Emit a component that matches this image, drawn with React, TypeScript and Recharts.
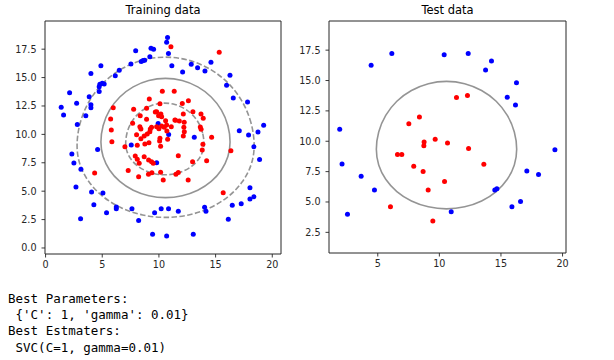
import React from 'react';
import { ComposedChart, XAxis, YAxis, Scatter, Line, ReferenceArea } from 'recharts';

type P = [number, number];

const trainBlue: P[] = [
  [10.76,18.52],[10.68,18.12],[10.84,17.12],[9.3,17.58],[9.53,17.5],[7.95,17.37],[9.2,16.84],[8.74,16.53],[8.6,16.5],[8.44,16.42],
  [7.53,16.2],[4.88,16.04],[4.0,15.35],[6.5,15.64],[6.15,15.17],[4.79,14.41],[5.0,14.5],[5.17,14.44],[4.73,14.2],[4.73,13.78],
  [2.12,13.67],[3.85,13.31],[4.0,12.6],[4.0,12.35],[2.74,12.73],[1.38,12.38],[1.59,11.7],[3.55,11.65],[2.8,10.88],[11.14,16.03],
  [12.09,15.5],[12.85,16.17],[13.41,15.87],[14.06,15.58],[14.59,16.34],[16.27,15.2],[15.97,14.32],[16.56,13.2],[17.82,12.85],[17.09,10.33],
  [17.91,9.95],[18.74,10.21],[19.24,10.8],[18.38,8.92],[18.88,7.78],[18.03,5.31],[18.03,4.31],[18.38,4.52],[17.26,3.9],[16.47,3.76],
  [16.12,2.52],[14.03,3.58],[14.15,3.23],[13.03,1.2],[11.71,3.23],[10.85,3.46],[10.2,3.46],[9.62,3.11],[8.21,2.41],[7.62,3.46],
  [9.44,1.2],[10.68,1.06],[6.24,3.61],[6.24,3.46],[5.38,3.11],[4.26,3.81],[5.06,4.84],[4.06,4.93],[3.09,2.58],[2.68,5.37],
  [3.12,6.92],[2.5,7.48],[2.32,8.27],[4.59,8.66],[7.56,9.07],[9.93,10.95],[10.86,10.0],[13.12,9.74],[9.8,7.51],
];

const trainRed: P[] = [
  [11.06,17.72],[15.32,17.22],[10.3,13.79],[11.35,13.79],[9.15,13.12],[7.77,12.21],[8.91,12.3],[10.09,12.7],[12.06,12.72],[12.6,12.95],
  [5.97,12.35],[5.74,11.36],[5.8,10.39],[5.85,9.36],[13.0,12.0],[13.71,11.8],[13.91,11.42],[13.65,10.65],[13.72,10.45],[12.15,11.8],
  [11.41,11.27],[11.8,11.18],[12.24,10.24],[12.15,9.86],[14.65,9.74],[13.88,9.12],[13.82,8.62],[11.71,8.12],[12.97,7.58],[14.21,7.67],
  [16.35,8.55],[15.67,4.87],[12.58,5.99],[11.71,6.65],[11.5,6.5],[10.38,5.99],[10.15,6.66],[9.38,6.62],[9.08,6.5],[9.35,7.58],
  [9.5,7.45],[8.7,8.04],[9.09,7.75],[7.91,8.1],[8.09,7.81],[8.26,7.46],[7.29,6.81],[8.21,6.28],[4.33,6.6],[7.0,8.92],
  [8.09,9.04],[8.76,9.15],[9.12,9.27],[10.15,8.95],[10.06,9.42],[10.09,9.66],[10.77,9.57],[8.03,9.97],[8.7,9.86],[8.97,10.04],
  [9.2,10.24],[9.35,10.62],[8.32,10.68],[7.68,10.98],[8.35,11.65],[8.91,11.33],[9.68,11.97],[9.97,11.65],[10.17,11.8],[9.8,12.0],
  [10.24,11.56],[9.8,10.68],[10.24,10.74],[10.47,10.62],[10.68,10.83],[11.09,10.68],[10.59,11.21],[11.47,11.24],[10.7,10.3],[12.2,10.62],
  [12.23,11.06],[8.41,10.48],[8.41,9.62],[9.24,10.48],[10.0,10.5],
];

const testBlue: P[] = [
  [6.14,17.23],[4.46,16.25],[10.39,17.12],[12.34,17.23],[14.23,16.6],[13.75,15.87],[16.26,14.81],[15.51,13.63],[16.18,12.98],[1.91,10.99],
  [2.1,8.13],[3.65,7.12],[4.73,5.98],[2.54,3.99],[10.96,4.2],[14.5,5.98],[14.67,6.08],[15.89,4.61],[16.59,5.05],[17.1,7.56],
  [18.05,7.26],[19.38,9.3],
];

const testRed: P[] = [
  [11.39,13.61],[12.28,13.77],[8.38,12.0],[7.52,11.45],[9.66,10.17],[8.76,9.93],[8.74,9.63],[10.66,9.85],[12.37,9.41],[6.6,8.91],
  [6.95,8.91],[7.92,7.94],[8.68,7.5],[13.61,8.1],[10.42,6.68],[9.09,5.98],[6.03,4.61],[9.47,3.44],
];

// decision boundary (solid) and margins (dashed)
const boundary: P[] = [
  [16.34,9.30],[16.15,10.78],[15.57,12.16],[14.66,13.34],[13.46,14.23],[12.07,14.80],[10.58,14.99],[9.09,14.80],
  [7.70,14.23],[6.50,13.34],[5.59,12.16],[5.01,10.78],[4.82,9.30],[5.01,8.03],[5.59,6.84],[6.50,5.82],
  [7.70,5.03],[9.09,4.55],[10.58,4.38],[12.07,4.55],[13.46,5.03],[14.66,5.82],[15.57,6.84],[16.15,8.03],
];
const marginOuter: P[] = [
  [18.49,8.95],[18.22,11.00],[17.43,12.92],[16.18,14.56],[14.55,15.82],[12.65,16.61],[10.59,16.89],[8.53,16.61],
  [6.63,15.82],[5.00,14.56],[3.75,12.92],[2.96,11.00],[2.69,8.95],[2.96,7.31],[3.75,5.79],[5.00,4.48],
  [6.63,3.48],[8.53,2.84],[10.59,2.62],[12.65,2.84],[14.55,3.48],[16.18,4.48],[17.43,5.79],[18.22,7.31],
];
const marginInner: P[] = [
  [14.01,9.20],[13.89,10.13],[13.55,11.00],[12.99,11.74],[12.27,12.31],[11.42,12.67],[10.52,12.79],[9.62,12.67],
  [8.77,12.31],[8.05,11.74],[7.49,11.00],[7.15,10.13],[7.03,9.20],[7.15,8.48],[7.49,7.81],[8.05,7.23],
  [8.77,6.79],[9.62,6.50],[10.52,6.41],[11.42,6.50],[12.27,6.79],[12.99,7.23],[13.55,7.81],[13.89,8.48],
];

const trainXDomain: [number, number] = [-0.05, 20.77];
const trainYDomain: [number, number] = [-0.53, 19.98];
const testXDomain: [number, number] = [1.04, 20.28];
const testYDomain: [number, number] = [0.8, 19.9];
const trainXTicks = [0, 5, 10, 15, 20];
const trainYTicks = [0, 2.5, 5, 7.5, 10, 12.5, 15, 17.5];
const testXTicks = [5, 10, 15, 20];
const testYTicks = [2.5, 5, 7.5, 10, 12.5, 15, 17.5];

const textLines = [
  'Best Parameters:',
  " {'C': 1, 'gamma': 0.01}",
  'Best Estmaters:',
  ' SVC(C=1, gamma=0.01)',
];

const toObj = (a: P[]) => a.map(([x, y]) => ({ x, y }));

const dot = (color: string) => (props: any) => (
  <circle cx={props.cx} cy={props.cy} r={2.5} fill={color} />
);

const tickStyle = { fontSize: 9.6, fill: '#262626', fontFamily: 'DejaVu Sans' };

const contourStroke = { stroke: '#000', strokeOpacity: 0.42, strokeWidth: 1.6 };

function Panel(props: {
  left: number; yAxisWidth: number; marginLeft: number; marginRight: number; marginBottom: number;
  xDomain: [number, number]; yDomain: [number, number]; xTicks: number[]; yTicks: number[];
  blue: P[]; red: P[]; dashed: boolean;
}) {
  const { xDomain, yDomain } = props;
  return (
    <div style={{ position: 'absolute', left: props.left, top: 0 }}>
      <ComposedChart
        width={300}
        height={275}
        margin={{ top: 21, right: props.marginRight, bottom: props.marginBottom, left: props.marginLeft }}
      >
        <XAxis
          type="number"
          dataKey="x"
          domain={xDomain}
          ticks={props.xTicks}
          allowDataOverflow
          axisLine={false}
          tickSize={3.5}
          tickMargin={4}
          tickLine={{ stroke: '#262626', strokeWidth: 0.9 }}
          tick={tickStyle}
          height={20}
          interval={0}
        />
        <YAxis
          type="number"
          dataKey="y"
          domain={yDomain}
          ticks={props.yTicks}
          allowDataOverflow
          axisLine={false}
          tickSize={3.5}
          tickMargin={5}
          tickLine={{ stroke: '#262626', strokeWidth: 0.9 }}
          tick={tickStyle}
          width={props.yAxisWidth}
          interval={0}
          tickFormatter={(v: number) => v.toFixed(1)}
        />
        {props.dashed && (
          <Line
            data={toObj(marginOuter)}
            dataKey="y"
            type="basisClosed"
            {...contourStroke}
            strokeDasharray="5.5 2.4"
            dot={false}
            activeDot={false}
            isAnimationActive={false}
            legendType="none"
          />
        )}
        {props.dashed && (
          <Line
            data={toObj(marginInner)}
            dataKey="y"
            type="basisClosed"
            {...contourStroke}
            strokeDasharray="5.5 2.4"
            dot={false}
            activeDot={false}
            isAnimationActive={false}
            legendType="none"
          />
        )}
        <Line
          data={toObj(boundary)}
          dataKey="y"
          type="basisClosed"
          {...contourStroke}
          dot={false}
          activeDot={false}
          isAnimationActive={false}
          legendType="none"
        />
        <Scatter data={toObj(props.blue)} fill="#0000ff" shape={dot('#0000ff')} isAnimationActive={false} />
        <Scatter data={toObj(props.red)} fill="#ff0000" shape={dot('#ff0000')} isAnimationActive={false} />
        <ReferenceArea
          x1={xDomain[0]}
          x2={xDomain[1]}
          y1={yDomain[0]}
          y2={yDomain[1]}
          fill="none"
          fillOpacity={0}
          stroke="#262626"
          strokeWidth={1}
          ifOverflow="visible"
        />
      </ComposedChart>
    </div>
  );
}

const titleStyle: React.CSSProperties = {
  position: 'absolute',
  top: 5.3,
  width: 200,
  textAlign: 'center',
  fontFamily: 'DejaVu Sans',
  fontSize: 11.5,
  lineHeight: '11.5px',
  color: '#000',
  whiteSpace: 'nowrap',
};

export default function App() {
  return (
    <div style={{ position: 'absolute', left: 0, top: 0, width: 614, height: 360, background: '#fff', overflow: 'hidden' }}>
      <Panel
        left={0}
        yAxisWidth={40}
        marginLeft={5}
        marginRight={19}
        marginBottom={1}
        xDomain={trainXDomain}
        yDomain={trainYDomain}
        xTicks={trainXTicks}
        yTicks={trainYTicks}
        blue={trainBlue}
        red={trainRed}
        dashed={true}
      />
      <Panel
        left={290}
        yAxisWidth={35}
        marginLeft={4}
        marginRight={24}
        marginBottom={2}
        xDomain={testXDomain}
        yDomain={testYDomain}
        xTicks={testXTicks}
        yTicks={testYTicks}
        blue={testBlue}
        red={testRed}
        dashed={false}
      />
      <div style={{ ...titleStyle, left: 163 - 100 }}>Training data</div>
      <div style={{ ...titleStyle, left: 447.5 - 100 }}>Test data</div>
      <pre
        style={{
          position: 'absolute',
          left: 8,
          top: 290.8,
          margin: 0,
          fontFamily: '"DejaVu Sans Mono", monospace',
          fontSize: 12.5,
          lineHeight: '16.3px',
          color: '#000',
        }}
      >
        {textLines.join('\n')}
      </pre>
    </div>
  );
}
